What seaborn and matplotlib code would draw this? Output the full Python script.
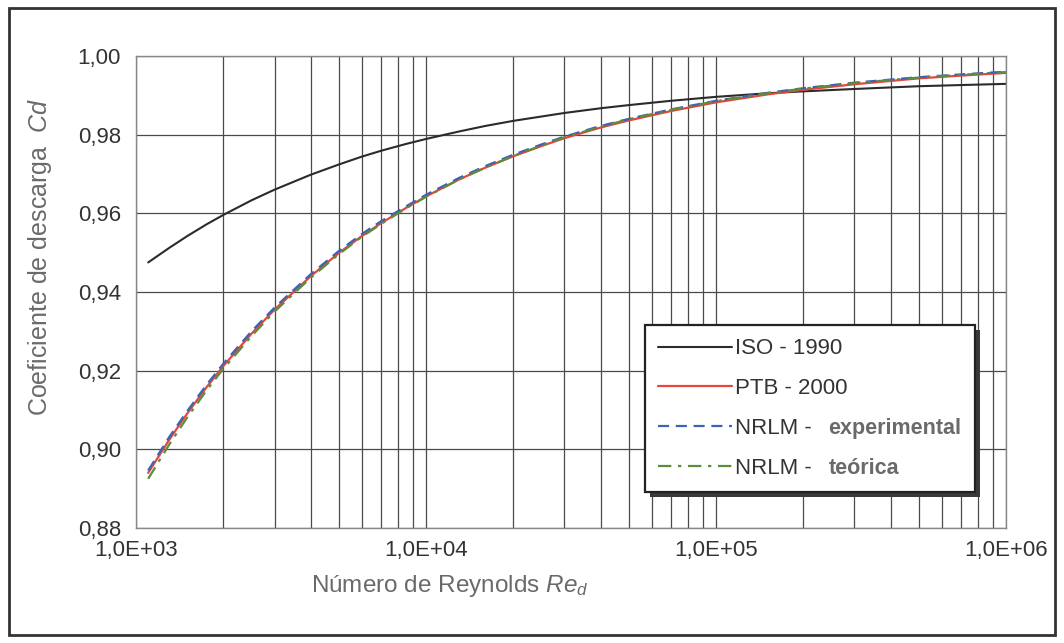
import matplotlib
matplotlib.use("Agg")
import matplotlib.pyplot as plt
import matplotlib.ticker as mticker
from matplotlib.patches import Rectangle
from matplotlib.offsetbox import TextArea, HPacker
from matplotlib.transforms import IdentityTransform
import seaborn as sns
import numpy as np

re_vals = [1.1e3, 1.3e3, 1.5e3, 1.75e3, 2e3, 2.5e3, 3e3, 4e3, 5e3, 6e3, 7e3, 8.5e3,
           1e4, 1.3e4, 1.6e4, 2e4, 2.5e4, 3e4, 4e4, 5e4, 7e4, 1e5, 1.5e5, 2e5,
           3e5, 5e5, 7e5, 1e6]
iso_1990 = [0.9475, 0.9512, 0.9542, 0.9572, 0.9596, 0.9633, 0.9660, 0.9698, 0.9724,
            0.9744, 0.9759, 0.9776, 0.9789, 0.9808, 0.9822, 0.9835, 0.9846, 0.9855,
            0.9867, 0.9875, 0.9886, 0.9896, 0.9905, 0.9910, 0.9916, 0.9923, 0.9926, 0.9929]
ptb_2000 = [0.8940, 0.9024, 0.9091, 0.9158, 0.9212, 0.9294, 0.9355, 0.9440, 0.9499,
            0.9542, 0.9575, 0.9613, 0.9643, 0.9686, 0.9716, 0.9745, 0.9771, 0.9791,
            0.9818, 0.9836, 0.9860, 0.9882, 0.9902, 0.9914, 0.9928, 0.9943, 0.9950, 0.9957]
nrlm_exp = [0.8946, 0.9031, 0.9097, 0.9164, 0.9218, 0.9300, 0.9360, 0.9445, 0.9504,
            0.9547, 0.9580, 0.9617, 0.9647, 0.9690, 0.9720, 0.9749, 0.9775, 0.9795,
            0.9822, 0.9840, 0.9864, 0.9886, 0.9906, 0.9918, 0.9932, 0.9946, 0.9953, 0.9960]
nrlm_teo = [0.8925, 0.9012, 0.9081, 0.9150, 0.9205, 0.9288, 0.9350, 0.9436, 0.9496,
            0.9540, 0.9573, 0.9612, 0.9642, 0.9686, 0.9716, 0.9746, 0.9772, 0.9793,
            0.9820, 0.9839, 0.9863, 0.9885, 0.9905, 0.9917, 0.9931, 0.9945, 0.9952, 0.9959]

labels = ["ISO - 1990", "PTB - 2000", "NRLM -", "NRLM -"]
extra = [None, None, "experimental", "teórica"]
y_ticks = [0.88, 0.90, 0.92, 0.94, 0.96, 0.98, 1.00]
x_ticks = [1e3, 1e4, 1e5, 1e6]
x_ticklabels = ["1,0E+03", "1,0E+04", "1,0E+05", "1,0E+06"]

sns.set_style("white")
plt.rcParams['font.family'] = ['Liberation Sans', 'DejaVu Sans']
plt.rcParams['mathtext.fontset'] = 'custom'
plt.rcParams['mathtext.it'] = 'Liberation Sans:italic'
plt.rcParams['mathtext.rm'] = 'Liberation Sans'

fig = plt.figure(figsize=(10.64, 6.43), dpi=100)
ax = fig.add_axes([0.128, 0.179, 0.9455 - 0.128, 0.913 - 0.179])

styles = [
    dict(color="#2b2b2b", lw=1.5, ls="-"),
    dict(color="#e8453c", lw=1.6, ls="-"),
    dict(color="#3d63b5", lw=1.6, ls=(0, (5, 3))),
    dict(color="#5d8c3c", lw=1.6, ls=(0, (6, 3, 1.5, 3))),
]
series = [iso_1990, ptb_2000, nrlm_exp, nrlm_teo]
for ys, st, lab in zip(series, styles, labels):
    sns.lineplot(x=re_vals, y=ys, ax=ax, label=lab, **st)

ax.set_xscale("log")
ax.set_xlim(1e3, 1e6)
ax.set_ylim(0.88, 1.00)
ax.set_yticks(y_ticks)
ax.set_xticks(x_ticks)
ax.xaxis.set_minor_locator(mticker.LogLocator(base=10, subs=np.arange(2, 10)))
ax.xaxis.set_minor_formatter(mticker.NullFormatter())
ax.set_yticklabels([f"{v:.2f}".replace(".", ",") for v in y_ticks])
ax.set_xticklabels(x_ticklabels)
ax.grid(True, which="major", color="#4a4a4a", lw=0.9)
ax.grid(True, which="minor", axis="x", color="#4a4a4a", lw=0.9)
ax.tick_params(axis="both", which="both", length=0, labelsize=16, colors="#333333")
ax.tick_params(axis="y", pad=11)
ax.tick_params(axis="x", pad=9)
for s in ax.spines.values():
    s.set_color("#888888")
    s.set_linewidth(1.0)

ax.set_ylabel(r"Coeficiente de descarga  $\it{Cd}$", fontsize=18, color="#6a6a6a")
ax.set_xlabel(r"Número de Reynolds $\it{Re}_{\it{d}}$", fontsize=17.5, color="#6a6a6a")
ax.yaxis.set_label_coords(-0.094, 0.575)
ax.xaxis.set_label_coords(0.361, -0.095)

leg = ax.legend(loc="upper left", bbox_to_anchor=(0.585, 0.43), frameon=True, fancybox=False,
                shadow=False, fontsize=16, handlelength=3.3,
                handletextpad=0.15, labelspacing=0.85, borderpad=0.6, borderaxespad=0)
leg.get_frame().set_edgecolor("#222222")
leg.get_frame().set_linewidth(1.6)
leg.get_frame().set_alpha(1)
for t in leg.get_texts():
    t.set_color("#333333")
leg.set_zorder(6)

# append the lighter suffix texts to the legend rows
items = []
for col in leg._legend_handle_box.get_children():
    items.extend(col.get_children())
for item, ex in zip(items, extra):
    if ex:
        children = item.get_children()
        ta = TextArea(ex, textprops=dict(fontsize=15.5, fontweight="bold", color="#6a6a6a"))
        pk = HPacker(children=[children[1], ta], sep=12, pad=0, align="baseline")
        pk.set_figure(fig)
        children[1] = pk

fig.canvas.draw()
bb = leg.get_frame().get_window_extent(fig.canvas.get_renderer())
shadow = Rectangle((bb.x0 + 5, bb.y0 - 5), bb.width, bb.height, transform=IdentityTransform(),
                   facecolor="#3a3a3a", edgecolor="none", zorder=5.5, clip_on=False)
ax.add_patch(shadow)

fig.add_artist(Rectangle((0.008, 0.012), 0.984, 0.976, transform=fig.transFigure,
                         fill=False, edgecolor="#333333", lw=2))

fig.savefig("out.png", dpi=100)
